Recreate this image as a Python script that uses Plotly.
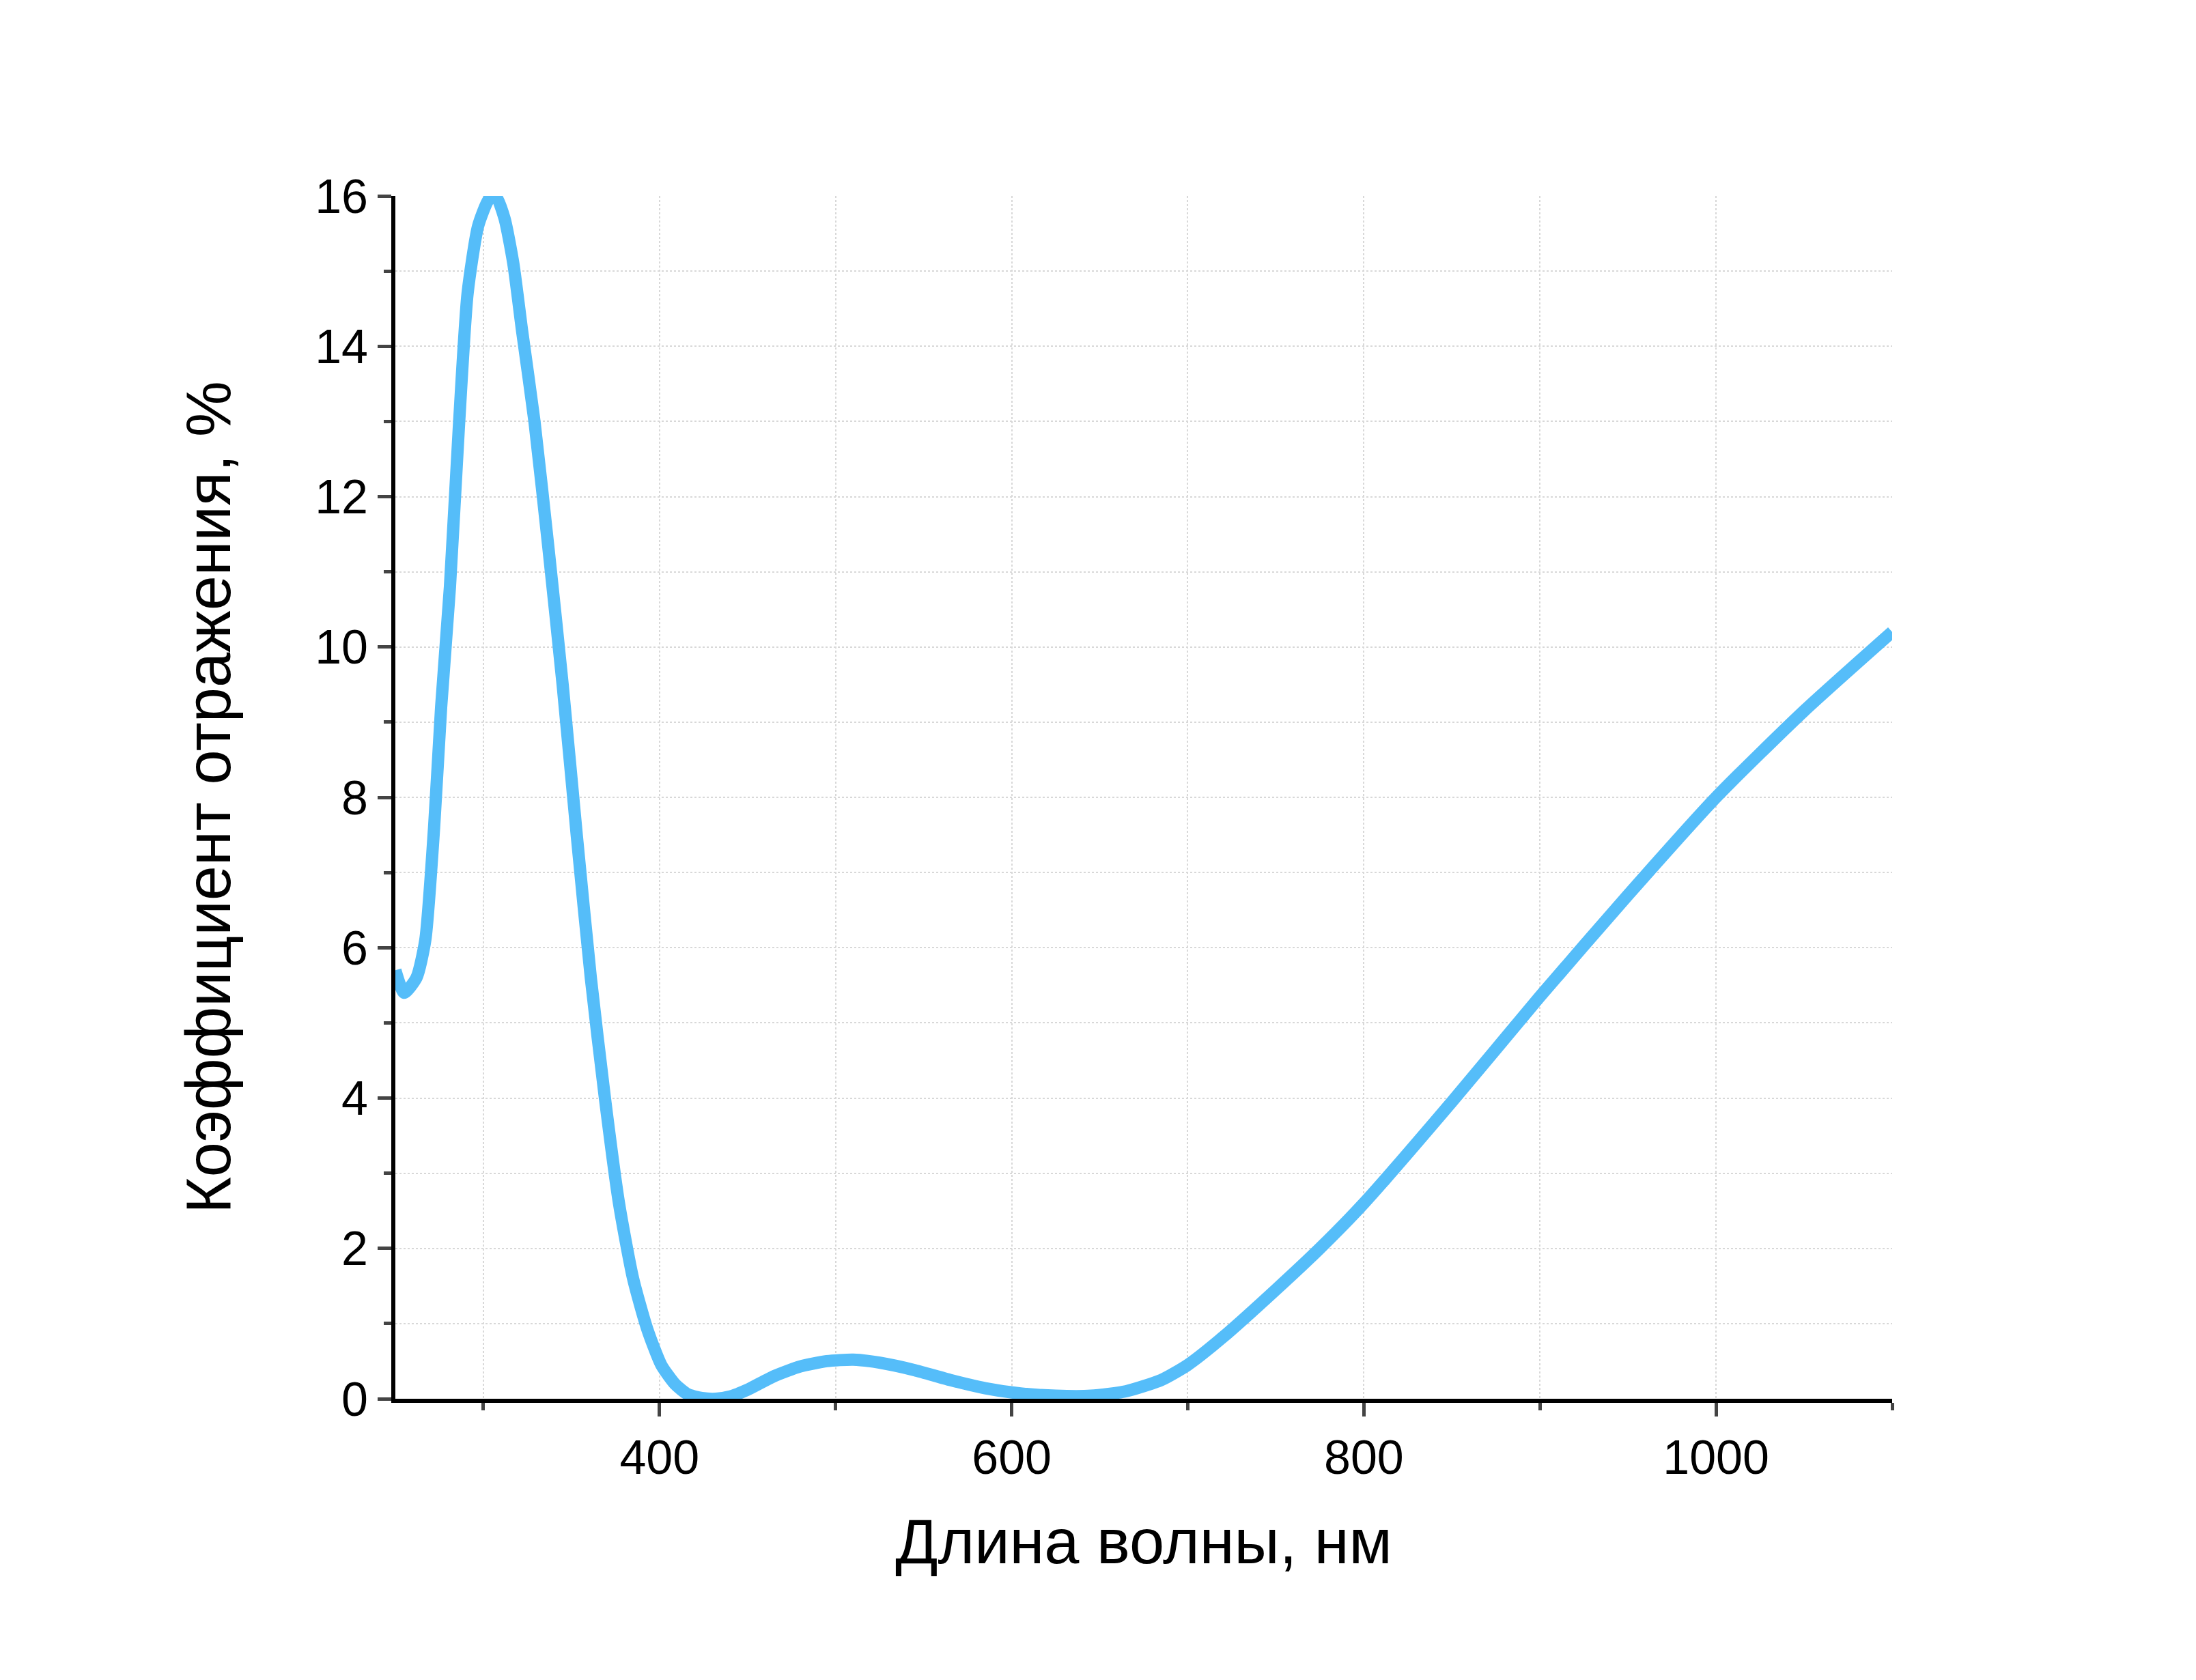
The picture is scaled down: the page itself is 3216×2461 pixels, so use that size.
import plotly.graph_objects as go

wavelength = [250, 255, 262, 267, 272, 276, 281, 286, 291, 297, 303, 307, 312, 317, 322, 329, 337, 345, 353, 361, 369, 377, 385, 393, 401, 409, 416, 424, 432, 440, 450, 465, 480, 495, 510, 525, 545, 565, 585, 605, 625, 645, 665, 685, 700, 720, 750, 775, 800, 850, 900, 950, 1000, 1050, 1100]
reflectance = [5.7, 5.4, 5.6, 6.1, 7.6, 9.2, 10.8, 12.9, 14.7, 15.6, 15.95, 16.0, 15.7, 15.1, 14.2, 13.0, 11.3, 9.5, 7.5, 5.6, 4.0, 2.6, 1.6, 0.93, 0.45, 0.19, 0.06, 0.01, 0.0, 0.03, 0.12, 0.3, 0.43, 0.5, 0.52, 0.48, 0.38, 0.25, 0.14, 0.07, 0.04, 0.04, 0.1, 0.25, 0.45, 0.82, 1.45, 2.0, 2.6, 3.95, 5.35, 6.7, 8.0, 9.15, 10.2]

fig = go.Figure(go.Scatter(x=wavelength, y=reflectance, mode="lines",
                           line=dict(color="#55bdf9", width=18, shape="spline", smoothing=0.6)))
grid = dict(showgrid=True, gridcolor="#d8d8d8", griddash="dot", gridwidth=2)
fig.update_layout(
    width=3216, height=2461, plot_bgcolor="white", paper_bgcolor="white",
    margin=dict(l=571, r=453, t=279, b=420),
    font=dict(family="Liberation Sans, Arial", size=70, color="black"),
    showlegend=False,
    xaxis=dict(range=[250, 1100], tickvals=[400, 600, 800, 1000], showline=True, linecolor="black",
               linewidth=6, ticks="outside", ticklen=20, tickwidth=5, zeroline=False,
               minor=dict(dtick=100, tick0=0, ticks="outside", ticklen=11, tickwidth=5, showgrid=True,
                          gridcolor="#d8d8d8", griddash="dot", gridwidth=2),
               title=dict(text="Длина волны, нм", font=dict(size=92), standoff=55), **grid),
    yaxis=dict(range=[0, 16], dtick=2, showline=True, linecolor="black",
               linewidth=6, ticks="outside", ticklen=20, tickwidth=5, zeroline=False,
               minor=dict(dtick=1, ticks="outside", ticklen=11, tickwidth=5, showgrid=True,
                          gridcolor="#d8d8d8", griddash="dot", gridwidth=2),
               title=dict(text="Коэффициент отражения, %", font=dict(size=92), standoff=95), **grid),
)
fig.write_html("out.html")
